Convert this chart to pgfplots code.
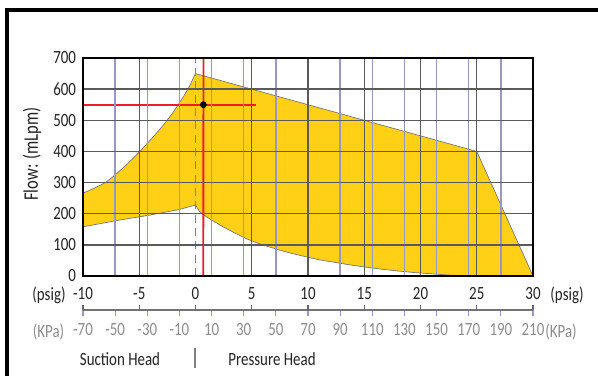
\documentclass[border=0pt]{standalone}
\usepackage{pgfplots}
\pgfplotsset{compat=1.18}
\usepackage{fontspec}
\setmainfont{Carlito}[FakeStretch=0.8]
\definecolor{fillY}{RGB}{255,208,22}
\definecolor{gridB}{RGB}{150,150,200}
\definecolor{gridG}{RGB}{90,90,90}
\definecolor{redL}{RGB}{235,30,35}
\definecolor{txtG}{RGB}{140,140,140}
\definecolor{txtD}{RGB}{35,35,35}
\newcommand\lab{\fontsize{14}{16}\selectfont}
\begin{document}
\begin{tikzpicture}[x=0.75pt,y=0.75pt]
\draw[line width=2.6pt] (7,-5) -- (7,365) -- (605,365);
\begin{axis}[
 at={(62.25pt,74.25pt)}, anchor=south west,
 scale only axis, width=337.5pt, height=163.5pt,
 xmin=-10,xmax=30,ymin=0,ymax=700,
 axis on top,
 xtick={-10,-5,5,10,15,20,25,30},
 xticklabels={-10,-5,5,10,15,20,25,30},
 extra x ticks={0}, extra x tick labels={0}, extra x tick style={grid=none},
 minor xtick={-7.1429,-4.2857,-1.4286,1.4286,4.2857,7.1429,12.8571,15.7143,18.5714,21.4286,24.2857,27.1429},
 ytick={0,100,...,700},
 yticklabels={0,100,200,300,400,500,600,700},
 major tick length=0pt, minor tick length=0pt,
 grid=both,
 major grid style={gridG, line width=1pt},
 minor grid style={gridB, line width=1.1pt},
 axis line style={line width=1.2pt, black},
 xticklabel style={font=\lab, text=txtD, yshift=-5pt},
 yticklabel style={font=\lab, text=txtD, xshift=-1.7pt},
]
\addplot[fill=fillY, draw=black!55, line width=0.5pt] coordinates {
 (-10,266) (-9,282) (-8,300) (-7,329) (-6,362) (-5,398) (-4,437) (-3,478) (-2,525) (-1,580) (-0.5,612) (0,650)
 (25,400) (30,0)
 (25,0) (24,1) (22.5,3) (21,7) (19.5,11) (18,16) (16.5,22) (15,29) (13.5,37) (12,46) (11,52) (9.9,61)
 (8.5,73) (7.5,83) (6.5,94) (5.5,106) (4.5,120) (3.5,138) (2.5,157) (1.5,178) (0.7,197) (0.35,207) (0,228)
 (-1.5,213) (-4,196) (-7,178) (-10,158)
} -- cycle;
\addplot[draw=gray, line width=0.9pt, dash pattern=on 6pt off 4pt] coordinates {(0,0) (0,700)};
\addplot[draw=redL, line width=1.3pt] coordinates {(-10,550) (5.4,550)};
\addplot[draw=redL, line width=1.4pt, solid] coordinates {(0.69,0) (0.70,350) (0.71,700)};
\addplot[only marks, mark=*, mark size=2.3pt, black] coordinates {(0.7,550)};
\end{axis}
\begin{axis}[
 at={(62.25pt,48.75pt)}, anchor=south west,
 scale only axis, width=337.5pt, height=1pt,
 xmin=-70,xmax=210, ymin=0,ymax=1,
 axis x line*=bottom, axis y line=none,
 x axis line style={-, black!55, line width=0.8pt},
 xtick={-70,-50,...,210},
 xticklabels={-70,-50,-30,-10,10,30,50,70,90,110,130,150,170,190,210},
 tick align=outside,
 major tick length=4.5pt,
 x tick style={gridB, line width=0.9pt},
 xticklabel style={font=\lab, text=txtG, yshift=-2pt},
 extra x ticks={-70,-35,0,35,70,105,140,175,210},
 extra x tick labels={},
 extra x tick style={tick align=inside, major tick length=4pt, x tick style={black!60, line width=0.9pt}},
]
\end{axis}
\node[font=\lab, text=txtD] at (49,80) {(psig)};
\node[font=\lab, text=txtD] at (567,80) {(psig)};
\node[font=\lab, text=txtG] at (48.5,43) {(KPa)};
\node[font=\lab, text=txtG] at (561,43) {(KPa)};
\node[font=\lab, text=txtD] at (120,16) {Suction Head};
\node[font=\lab, text=txtD] at (272,16) {Pressure Head};
\draw[black!50, line width=0.8pt] (195,7) -- (195,27);
\node[font=\fontsize{15.5}{17}\selectfont, text=txtD, rotate=90] at (32,221) {Flow: (mLpm)};
\pgfresetboundingbox
\path[use as bounding box] (0,0) rectangle (598,375);
\end{tikzpicture}
\end{document}
